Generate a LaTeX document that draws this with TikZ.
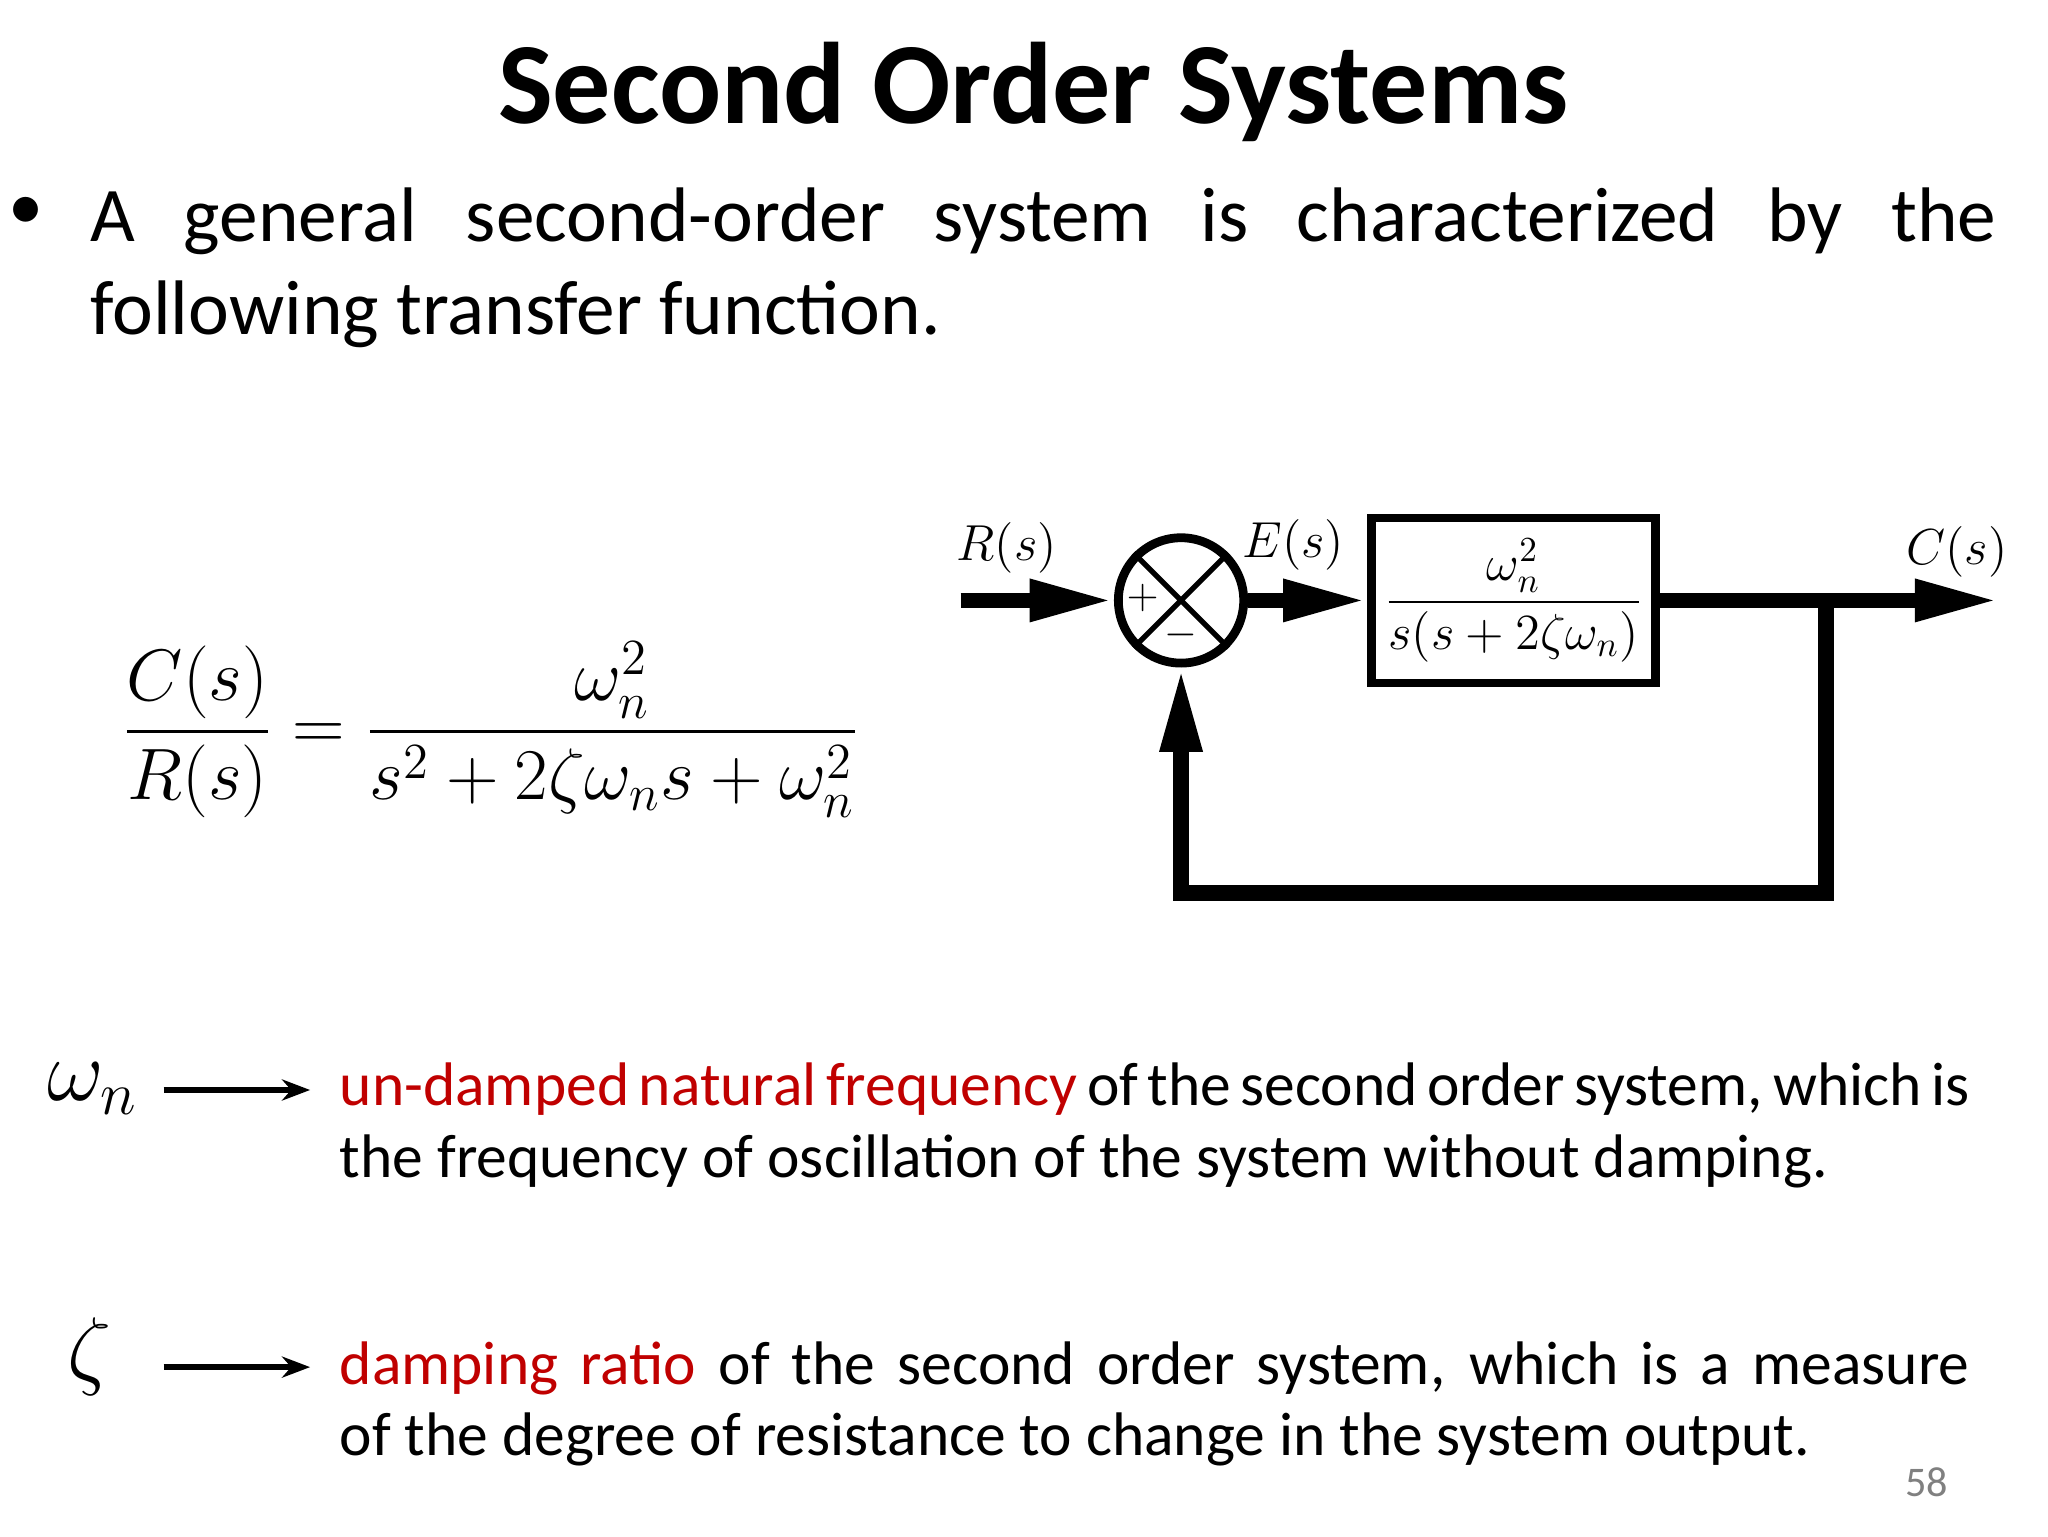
\documentclass[tikz,border=0pt]{standalone}
\usepackage{fontspec}
\setmainfont{Carlito}
\usepackage{amsmath}
\usetikzlibrary{arrows.meta}
\begin{document}
\begin{tikzpicture}[x=0.013196cm,y=-0.013196cm,
  thick line/.style={line width=4.5pt},
  arr/.style={-{Triangle[length=24pt,width=11pt]}},
  blk/.style={draw,line width=2.5pt,minimum width=215*0.013196cm,minimum height=125*0.013196cm,inner sep=0},
  desc/.style={anchor=north west,text width=16.3cm,font=\fontsize{17.5}{20.3}\selectfont,align=justify,inner sep=0}]
\useasboundingbox (0,0) rectangle (1552,1164);
\node (title) at (783,70) {\fontsize{33}{36}\selectfont\bfseries Second Order Systems};
\node (bul) at (20,162) {\fontsize{20}{24}\selectfont •};
\node[anchor=north west,inner sep=0,text width=19.06cm,align=justify,font=\fontsize{22}{26.5}\selectfont] (intro) at (68,142) {A general second-order system is characterized by the\linebreak following transfer function.};
\node (eq) at (372,553) {\fontsize{22}{26}\selectfont$\displaystyle \frac{C(s)}{R(s)}=\frac{\omega_n^2}{s^2+2\zeta\omega_n s+\omega_n^2}$};
% block diagram
\node[circle,draw,line width=2.5pt,minimum size=95*0.013196cm,inner sep=0] (sum) at (895,455) {};
\draw[line width=1.5pt] (sum.north west) -- (sum.south east) (sum.north east) -- (sum.south west);
\node[font=\fontsize{12}{12}\selectfont] at (866,453) {$+$};
\node[font=\fontsize{12}{12}\selectfont] at (895,481) {$-$};
\node[blk] (G) at (1147,455) {\fontsize{14}{18}\selectfont$\dfrac{\omega_n^2}{s(s+2\zeta\omega_n)}$};
\coordinate (in) at (728,455);
\coordinate (out) at (1515,455);
\coordinate (tap) at (1384,455);
\coordinate (bot) at (1384,677);
\coordinate (botl) at (895,677);
\draw[thick line,arr] (in) -- (sum.west);
\draw[thick line,arr] (sum.east) -- (G.west);
\draw[thick line,arr] (G.east) -- (out);
\draw[thick line,arr] (tap) -- (bot) -- (botl) -- (sum.south);
\node[font=\fontsize{15}{15}\selectfont] (Rs) at (763,415) {$R(s)$};
\node[font=\fontsize{15}{15}\selectfont] (Es) at (980,413) {$E(s)$};
\node[font=\fontsize{15}{15}\selectfont] (Cs) at (1483,418) {$C(s)$};
% descriptions
\node[font=\fontsize{24}{24}\selectfont] (wn) at (70,825) {$\omega_n$};
\node[font=\fontsize{24}{24}\selectfont] (z) at (68,1028) {$\zeta$};
\node[desc] (d1) at (257,805) {\textcolor[HTML]{C00000}{un-damped natural frequency} of the second order system, which is\linebreak the frequency of oscillation of the system without damping.};
\node[desc] (d2) at (257,1016) {\textcolor[HTML]{C00000}{damping ratio} of the second order system, which is a measure\linebreak of the degree of resistance to change in the system output.};
\coordinate (a1s) at (124,826); \coordinate (a1e) at (235,826);
\coordinate (a2s) at (124,1036); \coordinate (a2e) at (235,1036);
\draw[line width=1.8pt,-{Stealth[length=8pt]}] (a1s) -- (a1e);
\draw[line width=1.8pt,-{Stealth[length=8pt]}] (a2s) -- (a2e);
\node[text=gray,font=\fontsize{12}{12}\selectfont] (pg) at (1460,1123) {58};
\end{tikzpicture}
\end{document}
